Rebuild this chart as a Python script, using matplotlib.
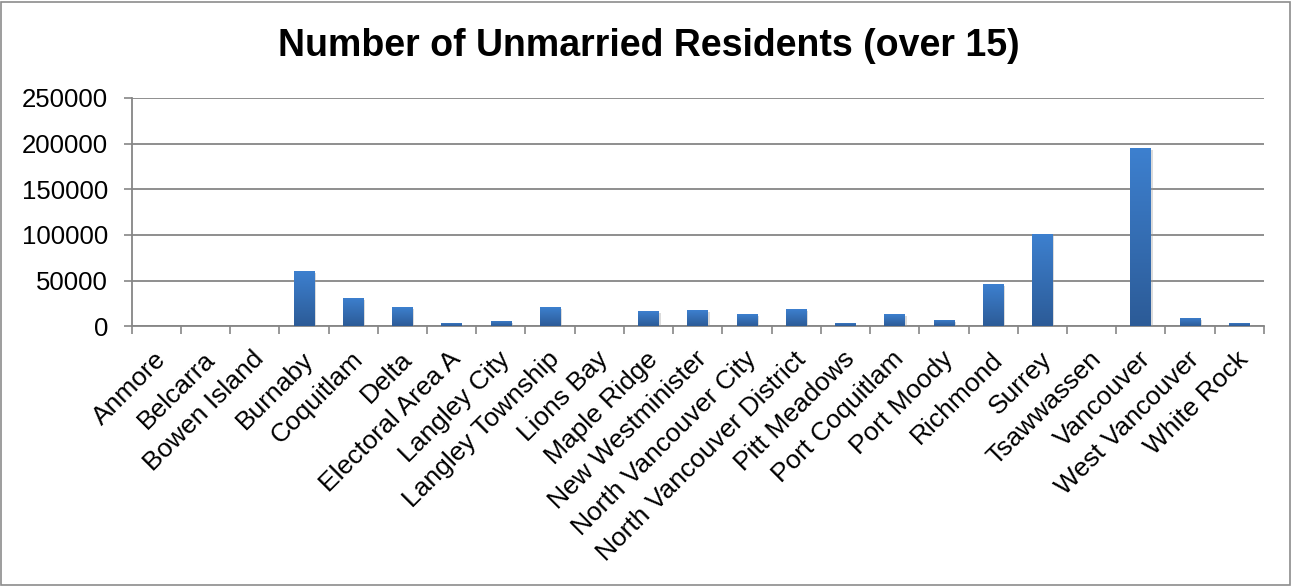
import matplotlib.pyplot as plt
import matplotlib.transforms as mtransforms
import matplotlib.patheffects as pe
from matplotlib.patches import Rectangle
from matplotlib.colors import LinearSegmentedColormap
import numpy as np

# Data
cities = ["Anmore", "Belcarra", "Bowen Island", "Burnaby", "Coquitlam", "Delta",
          "Electoral Area A", "Langley City", "Langley Township", "Lions Bay",
          "Maple Ridge", "New Westminister", "North Vancouver City",
          "North Vancouver District", "Pitt Meadows", "Port Coquitlam",
          "Port Moody", "Richmond", "Surrey", "Tsawwassen", "Vancouver",
          "West Vancouver", "White Rock"]
unmarried = [300, 100, 500, 60200, 30700, 20800, 3300, 5500, 20800, 300,
             16400, 17500, 13100, 18600, 3300, 13100, 6600, 46000, 100700,
             0, 194900, 8800, 3300]
yticks = [0, 50000, 100000, 150000, 200000, 250000]

plt.rcParams['font.family'] = ['Liberation Sans', 'DejaVu Sans']

fig = plt.figure(figsize=(12.93, 5.86), dpi=100)
ax = fig.add_axes([0.1018, 0.4433, 0.8757, 0.3895])

x = np.arange(len(cities))
bars = ax.bar(x, unmarried, width=0.42, color="#3572BE", zorder=3,
              path_effects=[pe.SimplePatchShadow(offset=(1.2, -1.2),
                                                 shadow_rgbFace="#9a9a9a", alpha=0.35),
                            pe.Normal()])

# vertical gradient on each bar
grad = np.linspace(0, 1, 256).reshape(-1, 1)
cmap = LinearSegmentedColormap.from_list("bar", ["#2C5B97", "#3D80CF"])
for b in bars:
    if b.get_height() <= 0:
        continue
    x0, y0 = b.get_x(), b.get_y()
    im = ax.imshow(grad, extent=[x0, x0 + b.get_width(), y0, y0 + b.get_height()],
                   origin="lower", cmap=cmap, aspect="auto", zorder=4)
    im.set_clip_path(b)

ax.set_xlim(-0.5, len(cities) - 0.5)
ax.set_ylim(0, 250000)
ax.set_yticks(yticks)
ax.set_yticklabels([str(v) for v in yticks], fontsize=18.5)

ax.set_xticks(x)
ax.set_xticklabels(cities, fontsize=19, rotation=45, ha="right", va="top",
                   rotation_mode="anchor")
ax.set_xticks(np.arange(-0.5, len(cities)), minor=True)
ax.tick_params(axis="x", which="major", length=0, pad=15)
ax.tick_params(axis="x", which="minor", length=6, color="#868686", width=1.2)
ax.tick_params(axis="y", length=6, color="#868686", width=1.2, pad=11)
offset = mtransforms.ScaledTranslation(-2 / 72, 0, fig.dpi_scale_trans)
for lab in ax.get_xticklabels():
    lab.set_transform(lab.get_transform() + offset)

ax.grid(axis="y", color="#868686", linewidth=1.3, zorder=0)
for side in ["top", "right"]:
    ax.spines[side].set_visible(False)
for side in ["left", "bottom"]:
    ax.spines[side].set_color("#868686")
    ax.spines[side].set_linewidth(1.3)

fig.text(0.502, 0.921, "Number of Unmarried Residents (over 15)", fontsize=27,
         fontweight="bold", ha="center", va="center")

fig.patches.append(Rectangle((0.001, 0.002), 0.997, 0.995, transform=fig.transFigure,
                             fill=False, edgecolor="#8C8C8C", linewidth=1.2))

plt.savefig("out.png", dpi=100)
